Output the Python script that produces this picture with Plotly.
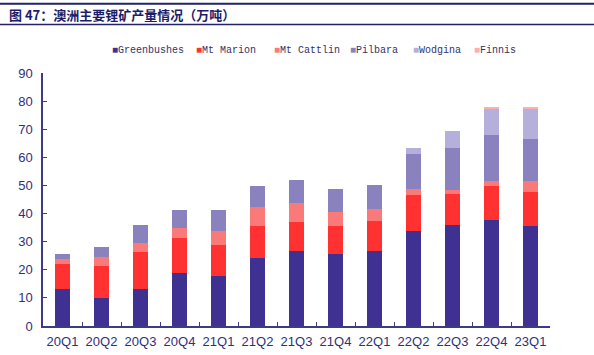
import plotly.graph_objects as go

categories = ["20Q1", "20Q2", "20Q3", "20Q4", "21Q1", "21Q2", "21Q3",
              "21Q4", "22Q1", "22Q2", "22Q3", "22Q4", "23Q1"]
greenbushes = [13.3, 10.0, 13.2, 18.7, 17.8, 24.2, 26.8, 25.7, 26.8, 33.7, 36.0, 37.8, 35.6]
mt_marion = [8.8, 11.4, 13.3, 12.7, 11.0, 11.5, 10.1, 9.9, 10.5, 12.9, 11.0, 12.1, 12.0]
mt_cattlin = [1.7, 3.2, 3.1, 3.5, 4.9, 6.5, 6.8, 5.0, 4.4, 2.2, 1.4, 1.7, 3.9]
pilbara = [1.8, 3.5, 6.2, 6.3, 7.7, 7.7, 8.4, 8.3, 8.3, 12.5, 14.9, 16.2, 14.9]
wodgina = [0, 0, 0, 0, 0, 0, 0, 0, 0, 2.0, 6.2, 9.5, 11.0]
finnis = [0, 0, 0, 0, 0, 0, 0, 0, 0, 0, 0, 0.3, 0.3]

series_names = ["Greenbushes", "Mt Marion", "Mt Cattlin", "Pilbara", "Wodgina", "Finnis"]
series_values = [greenbushes, mt_marion, mt_cattlin, pilbara, wodgina, finnis]
colors = ["#3f3192", "#ff3131", "#fa7a7a", "#8a82bf", "#b4afdb", "#f9b0b0"]
y_ticks = [0, 10, 20, 30, 40, 50, 60, 70, 80, 90]
title_text = "图 47：澳洲主要锂矿产量情况（万吨）"

navy = "#2f2f7c"

fig = go.Figure()
for name, vals, col in zip(series_names, series_values, colors):
    fig.add_trace(go.Bar(x=categories, y=vals, name=name, marker_color=col,
                         marker_line_width=0, showlegend=False))

W, H = 594, 355
# plot area in page pixels: left 43, right 550, top 73, bottom 326.5
L, R, T, B = 43, W - 550, 73, H - 326.5
pw, ph = W - L - R, H - T - B

def px(x):  # page x -> paper
    return (x - L) / pw

def py(y):  # page y -> paper
    return (H - B - y) / ph

fig.update_layout(
    width=W, height=H,
    margin=dict(l=L, r=R, t=T, b=B, pad=0),
    barmode="stack", bargap=0.61,
    paper_bgcolor="white", plot_bgcolor="white",
    font=dict(family="Liberation Sans, Arial", color=navy, size=13),
)
fig.update_xaxes(
    showline=True, linecolor="#3d3a8c", linewidth=1.5,
    ticks="inside", tickson="boundaries", ticklen=4, tickcolor="#3d3a8c",
    tickfont=dict(size=13, color=navy), showgrid=False,
    range=[-0.5, 12.5], tickangle=0, automargin=False, ticklabelstandoff=3,
)
fig.update_yaxes(
    range=[0, 90], tickvals=y_ticks, showline=True, linecolor="#3d3a8c",
    linewidth=1.5, ticks="inside", ticklen=4, tickcolor="#3d3a8c",
    tickfont=dict(size=13, color=navy), showgrid=False, zeroline=False,
    ticklabelstandoff=6, automargin=False,
)

# title box lines
fig.add_shape(type="line", xref="paper", yref="paper", x0=px(0), x1=px(594),
              y0=py(3.5), y1=py(3.5), line=dict(color="#22226c", width=2))
fig.add_shape(type="line", xref="paper", yref="paper", x0=px(0), x1=px(594),
              y0=py(24.5), y1=py(24.5), line=dict(color="#22226c", width=1.5))
fig.add_annotation(text="<b>" + title_text + "</b>", xref="paper", yref="paper",
                   x=px(7), y=py(14), xanchor="left", yanchor="middle",
                   showarrow=False,
                   font=dict(family="Noto Sans CJK SC", size=13, color="#1c1c6a"))

# legend
legend_x = [110, 194, 272, 348, 411, 472]
for name, col, lx in zip(series_names, colors, legend_x):
    fig.add_annotation(
        text=f'<span style="color:{col}">■</span>{name}',
        xref="paper", yref="paper", x=px(lx), y=py(50),
        xanchor="left", yanchor="middle", showarrow=False,
        font=dict(family="Liberation Mono, DejaVu Sans Mono", size=10, color="#333366"))

fig.write_html("out.html",
               config={"displayModeBar": False},
               post_script="document.body.style.margin='0px';"
                           "document.body.style.overflow='hidden';")
